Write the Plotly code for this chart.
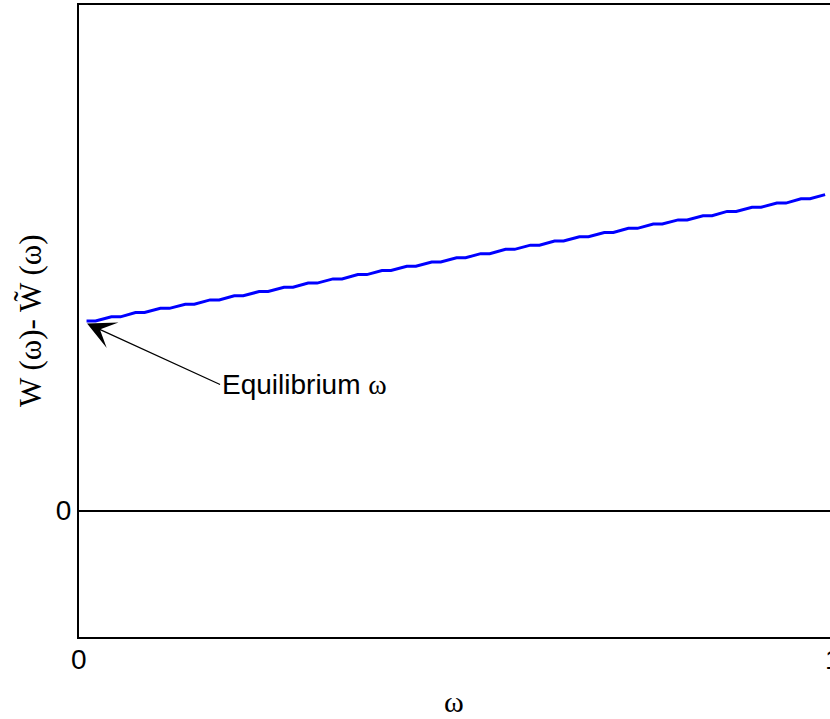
import plotly.graph_objects as go

# Data (staircase-like rising curve)
omega = [0.010, 0.022, 0.043, 0.055, 0.075, 0.087, 0.108, 0.120, 0.141, 0.153,
         0.174, 0.186, 0.206, 0.218, 0.239, 0.251, 0.272, 0.284, 0.304, 0.316,
         0.337, 0.349, 0.370, 0.382, 0.402, 0.414, 0.435, 0.447, 0.468, 0.480,
         0.501, 0.513, 0.533, 0.545, 0.566, 0.578, 0.599, 0.611, 0.631, 0.643,
         0.664, 0.676, 0.697, 0.709, 0.729, 0.741, 0.762, 0.774, 0.795, 0.807,
         0.828, 0.840, 0.860, 0.872, 0.893, 0.905, 0.926, 0.938, 0.958, 0.970,
         0.990]
w_diff = [1.500, 1.500, 1.533, 1.533, 1.567, 1.567, 1.600, 1.600, 1.633, 1.633,
          1.667, 1.667, 1.700, 1.700, 1.733, 1.733, 1.767, 1.767, 1.800, 1.800,
          1.833, 1.833, 1.867, 1.867, 1.900, 1.900, 1.933, 1.933, 1.967, 1.967,
          2.000, 2.000, 2.033, 2.033, 2.067, 2.067, 2.100, 2.100, 2.133, 2.133,
          2.167, 2.167, 2.200, 2.200, 2.233, 2.233, 2.267, 2.267, 2.300, 2.300,
          2.333, 2.333, 2.367, 2.367, 2.400, 2.400, 2.433, 2.433, 2.467, 2.467,
          2.500]

x_ticks = [0, 1]
x_ticktext = ["0", "1"]
y_ticks = [0]
y_ticktext = ["0"]

SANS = "Arial, Liberation Sans, sans-serif"
SERIF = "Times New Roman, Liberation Serif, serif"

X_MAX = 0.9965  # axis range end (x = 1 lies just past the visible window)
L, T, PW, PH = 79, 5, 751, 632

fig = go.Figure()
fig.add_trace(go.Scatter(x=omega, y=w_diff, mode="lines",
                         line=dict(color="#0000ff", width=3),
                         showlegend=False, hoverinfo="skip"))

fig.update_layout(
    width=830, height=719,
    margin=dict(l=L, r=0, t=T, b=719 - T - PH),
    paper_bgcolor="white", plot_bgcolor="white",
    showlegend=False,
    xaxis=dict(range=[0, X_MAX], showticklabels=False,
               showgrid=False, zeroline=False, showline=True, mirror=True,
               linecolor="black", linewidth=2, ticks=""),
    yaxis=dict(range=[-1, 4], tickvals=y_ticks, ticktext=y_ticktext,
               showgrid=False, zeroline=True, zerolinecolor="black",
               zerolinewidth=2.2, showline=True, mirror=False,
               linecolor="black", linewidth=2, ticks="",
               tickfont=dict(family=SANS, size=28, color="black"),
               ticklabelstandoff=0),
)

# x tick labels (placed via paper coordinates so the "1" may sit past the edge)
for v, t in zip(x_ticks, x_ticktext):
    fig.add_annotation(xref="paper", yref="paper", x=v / X_MAX, y=-0.036,
                       text=t, showarrow=False, xanchor="center", yanchor="middle",
                       font=dict(family=SANS, size=28, color="black"))

# y-axis title
fig.add_annotation(xref="paper", yref="paper", x=(30 - L) / PW, y=0.5,
                   text="W (ω)- W\u0303 (ω)", textangle=-90, showarrow=False,
                   xanchor="center", yanchor="middle",
                   font=dict(family=SERIF, size=31, color="black"))

# x-axis title
fig.add_annotation(xref="paper", yref="paper", x=(454 - L) / PW,
                   y=(T + PH - 701) / PH,
                   text="ω", showarrow=False, xanchor="center", yanchor="middle",
                   font=dict(family=SERIF, size=30, color="black"))

# Equilibrium annotation
fig.add_annotation(x=0.0107, y=1.48, xref="x", yref="y",
                   text="Equilibrium <span style='font-family:Times New Roman, Liberation Serif, serif'>ω</span>",
                   showarrow=True, arrowhead=3, arrowsize=3.6, arrowwidth=1.3,
                   arrowcolor="black", standoff=0,
                   ax=133, ay=61, xanchor="left", yanchor="middle",
                   font=dict(family=SANS, size=28, color="black"))

fig.write_html("out.html", config={"displayModeBar": False},
               post_script="document.body.style.margin='0px';")
